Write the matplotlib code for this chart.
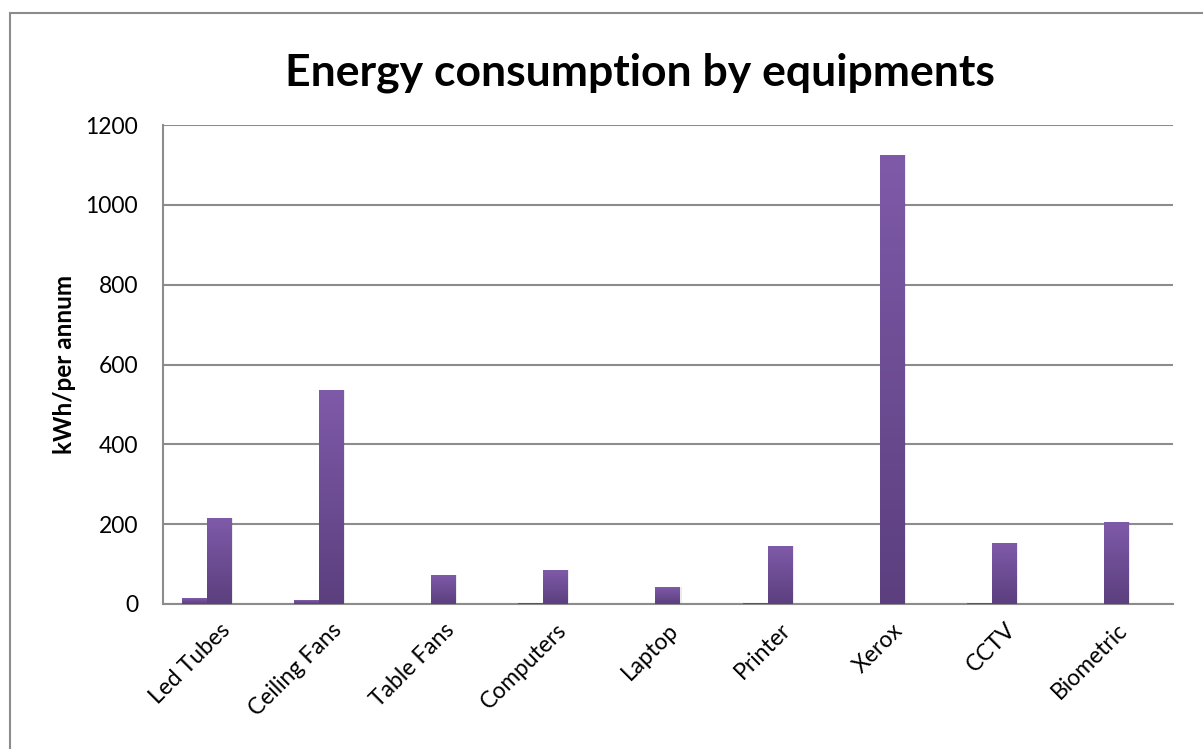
import numpy as np
import matplotlib
matplotlib.use('Agg')
import matplotlib.pyplot as plt
from matplotlib.colors import LinearSegmentedColormap
from matplotlib.patches import Rectangle

categories = ['Led Tubes', 'Ceiling Fans', 'Table Fans', 'Computers', 'Laptop',
              'Printer', 'Xerox', 'CCTV', 'Biometric']
series_small = [15, 10, 0, 3, 0, 3, 0, 3, 0]
series_main = [215, 537, 72, 85, 42, 145, 1125, 152, 205]
series_third = [0, 0, 0, 0, 0, 0, 0, 0, 0]
y_ticks = [0, 200, 400, 600, 800, 1000, 1200]

plt.rcParams['font.family'] = ['Lato', 'DejaVu Sans']

fig = plt.figure(figsize=(12.03, 7.49), dpi=100)
ax = fig.add_axes([0.1355, 0.1936, 0.8395, 0.6395])

# chart area border
fig.patches.append(Rectangle((0.008, -0.01), 1.2, 0.993, transform=fig.transFigure,
                             fill=False, edgecolor='#8c8c8c', linewidth=1.5))

grad = LinearSegmentedColormap.from_list('purp', ['#5b3f7e', '#7f5aa9'])
gimg = np.linspace(0, 1, 256).reshape(-1, 1)

x = np.arange(len(categories))
width = 1 / 4.5
for off, vals in zip([-1, 0, 1], [series_small, series_main, series_third]):
    for xi, v in zip(x, vals):
        if v <= 0:
            continue
        x0 = xi + off * width - width / 2
        # soft shadow
        ax.add_patch(Rectangle((x0 + 0.01, 0), width, v, facecolor='#000000',
                               alpha=0.08, edgecolor='none', zorder=2))
        bar = ax.bar(xi + off * width, v, width, color='none', zorder=3)[0]
        im = ax.imshow(gimg, cmap=grad, origin='lower', aspect='auto',
                       extent=(x0, x0 + width, 0, v), zorder=3)
        im.set_clip_path(bar)

ax.set_xlim(-0.5, len(categories) - 0.5)
ax.set_ylim(0, 1200)
ax.set_yticks(y_ticks)
ax.set_yticklabels([str(t) for t in y_ticks], fontsize=16.5)
ax.set_xticks(x)
ax.set_xticklabels(categories, fontsize=16.5, rotation=45, ha='right',
                   rotation_mode='anchor')
ax.tick_params(length=0)
ax.tick_params(axis='y', pad=18)
ax.tick_params(axis='x', pad=11)
ax.yaxis.grid(True, color='#8c8c8c', linewidth=1.5, zorder=0)
ax.set_axisbelow(True)
for s in ['top', 'right']:
    ax.spines[s].set_visible(False)
for s in ['left', 'bottom']:
    ax.spines[s].set_color('#8c8c8c')
    ax.spines[s].set_linewidth(1.5)

ax.set_ylabel('kWh/per annum', fontsize=17.5, fontweight='bold', labelpad=7)
fig.text(0.532, 0.903, 'Energy consumption by equipments', fontsize=32,
         fontweight='bold', ha='center', va='center')

fig.savefig('out.png', dpi=100)
